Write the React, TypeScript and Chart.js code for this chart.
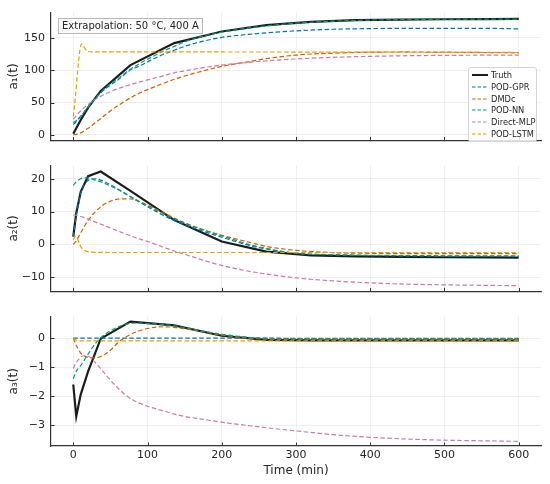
import { useEffect, useRef } from "react";
import { Chart, registerables, type ChartConfiguration, type Plugin } from "chart.js";

Chart.register(...registerables);

const FONT = "'DejaVu Sans', sans-serif";
const TEXT = "#262626";
const AXIS = "#333333";
const GRID = "#ebebeb";

const seriesNames = ["Truth", "POD-GPR", "DMDc", "POD-NN", "Direct-MLP", "POD-LSTM"];
const seriesColors = ["#1c1c1c", "#0072B2", "#D55E00", "#009E73", "#CC79A7", "#E69F00"];

const xTicks = [0, 100, 200, 300, 400, 500, 600];
const a1Ticks = [0, 50, 100, 150];
const a2Ticks = [-10, 0, 10, 20];
const a3Ticks = [-3, -2, -1, 0];

// time grids (min)
const truthTimes = [0, 4, 10, 20, 37, 77, 136, 200, 260, 320, 380, 440, 500, 560, 600];
const modelTimes = [0, 3, 5, 10, 15, 20, 30, 40, 50, 60, 75, 90, 100, 120, 136, 150, 175, 200, 240, 260, 300, 350, 400, 450, 500, 550, 600];
const lstmTimes = [0, 3, 6, 9, 11, 14, 18, 25, 50, 100, 200, 300, 400, 500, 600];

// a1(t)
const truthA1 = [1.5, 10, 23, 42, 68, 108, 142, 160, 170, 175, 177.5, 178.5, 179, 179.3, 179.5];
const gprA1 = [16, 19, 22, 28, 36, 43, 57, 68, 77, 85, 99, 107, 113, 124, 131, 137, 145, 151, 156, 158, 161, 163.5, 164.5, 165, 165, 165, 164];
const dmdcA1 = [0, 0.3, 1, 3, 6.5, 10, 19, 28, 37, 45, 56, 65, 70, 79, 86, 91, 99, 106, 114, 118, 123.5, 126.5, 128, 128.3, 128, 127.5, 127];
const nnA1 = [19, 21, 23, 29, 36, 43, 57, 69, 79, 87, 100, 111, 117, 129, 137, 144, 153, 159, 166, 168.5, 173, 176, 177.8, 178.6, 179, 179.2, 179.3];
const mlpA1 = [24, 28, 31, 37, 42.5, 47, 55, 61.5, 67, 71.5, 77, 82, 85, 91, 96, 99, 104, 108, 112.5, 114.5, 117.5, 120, 121.5, 122.5, 123, 123.3, 123.5];
const lstmA1 = [28, 60, 100, 132, 141, 137, 130, 128.5, 128.5, 128.5, 128.3, 128.2, 128, 127.8, 127.5];

// a2(t)
const truthA2 = [2.4, 9.5, 16, 20.8, 22.2, 16.3, 7.4, 0.9, -2.2, -3.35, -3.65, -3.8, -3.9, -3.95, -4.0];
const gprA2 = [2.4, 7, 10, 15.5, 18.3, 19.5, 20, 19.3, 18.2, 16.9, 14.8, 12.8, 11.5, 9, 7.3, 6, 4, 2.2, -0.5, -1.4, -2.7, -3.2, -3.4, -3.5, -3.55, -3.6, -3.6];
const dmdcA2 = [0, 0.8, 1.5, 3.5, 5.5, 7.3, 10, 12, 13.2, 13.8, 13.9, 13, 12, 9.8, 8, 6.6, 4.5, 2.8, 0.5, -0.6, -1.8, -2.5, -2.7, -2.8, -2.8, -2.8, -2.8];
const nnA2 = [18, 18.8, 19.3, 20, 20.3, 20.2, 19.6, 18.8, 17.8, 16.7, 14.8, 12.9, 11.8, 9.5, 7.8, 6.5, 4.4, 2.6, -0.2, -1.2, -2.7, -3.1, -3.3, -3.4, -3.45, -3.5, -3.5];
const mlpA2 = [9, 8.9, 8.8, 8.5, 8.1, 7.7, 6.8, 5.9, 5, 4.1, 2.8, 1.6, 0.9, -0.7, -2, -3, -4.8, -6.4, -8.3, -9, -10.2, -11.1, -11.7, -12.1, -12.3, -12.45, -12.55];
const lstmA2 = [1.5, 2.5, 1.5, -0.2, -1, -1.6, -2.1, -2.35, -2.45, -2.45, -2.45, -2.45, -2.45, -2.45, -2.45];

// a3(t)
const truthA3 = [-1.6, -2.7, -1.95, -1.15, -0.02, 0.57, 0.44, 0.08, -0.06, -0.08, -0.08, -0.08, -0.08, -0.08, -0.08];
const gprA3 = [0, 0, 0, 0, 0, 0, 0, 0, 0, 0, 0, 0, 0, 0, 0, 0, 0, 0, 0, 0, -0.01, -0.01, -0.01, -0.01, -0.01, -0.01, -0.01];
const dmdcA3 = [0, -0.2, -0.3, -0.52, -0.62, -0.66, -0.68, -0.6, -0.42, -0.16, 0.1, 0.26, 0.33, 0.39, 0.37, 0.32, 0.22, 0.1, -0.01, -0.04, -0.05, -0.05, -0.05, -0.05, -0.05, -0.05, -0.05];
const nnA3 = [-1.4, -1.2, -1.1, -0.95, -0.75, -0.55, -0.18, 0.08, 0.25, 0.38, 0.5, 0.52, 0.5, 0.47, 0.42, 0.36, 0.24, 0.13, 0.02, -0.01, -0.02, -0.02, -0.02, -0.02, -0.02, -0.02, -0.02];
const mlpA3 = [-1.05, -0.88, -0.8, -0.66, -0.6, -0.62, -0.85, -1.15, -1.45, -1.72, -2.05, -2.25, -2.35, -2.5, -2.62, -2.7, -2.8, -2.9, -3.03, -3.09, -3.2, -3.33, -3.42, -3.48, -3.52, -3.54, -3.56];
const lstmA3 = [0, -0.06, -0.09, -0.1, -0.1, -0.1, -0.1, -0.1, -0.1, -0.1, -0.1, -0.1, -0.1, -0.1, -0.1];

const series = (times: number[], values: number[]) => times.map((x, i) => ({ x, y: values[i] }));

function makeDatasets(lines: number[][]) {
  const times = [truthTimes, modelTimes, modelTimes, modelTimes, modelTimes, lstmTimes];
  return lines.map((values, i) => ({
    label: seriesNames[i],
    data: series(times[i], values),
    borderColor: seriesColors[i],
    borderWidth: i === 0 ? 2.2 : 1.2,
    borderDash: i === 0 ? [] : [4.5, 2.5],
    pointRadius: 0,
    fill: false,
    tension: 0,
    cubicInterpolationMode: i === 0 ? "default" : "monotone",
    order: 6 - i,
  }));
}

const fmt = (v: number) => (v < 0 ? "\u2212" + Math.abs(v) : String(v));

// ticks pointing into the plot, like the matplotlib style
const inwardTicks: Plugin<"line"> = {
  id: "inwardTicks",
  afterDraw(chart) {
    const { ctx, chartArea, scales } = chart;
    ctx.save();
    ctx.strokeStyle = AXIS;
    ctx.lineWidth = 1;
    ctx.beginPath();
    scales.x.ticks.forEach((t) => {
      const px = Math.round(scales.x.getPixelForValue(t.value)) + 0.5;
      ctx.moveTo(px, chartArea.bottom);
      ctx.lineTo(px, chartArea.bottom - 3.5);
    });
    scales.y.ticks.forEach((t) => {
      const py = Math.round(scales.y.getPixelForValue(t.value)) + 0.5;
      ctx.moveTo(chartArea.left, py);
      ctx.lineTo(chartArea.left + 3.5, py);
    });
    ctx.stroke();
    ctx.restore();
  },
};

type PanelSpec = {
  lines: number[][];
  yTicks: number[];
  yMin: number;
  yMax: number;
  yLabel: string;
  top: number;
  height: number;
  padTop: number;
  xHeight: number;
  showX: boolean;
};

function makeConfig(p: PanelSpec): ChartConfiguration<"line"> {
  return {
    type: "line",
    data: { datasets: makeDatasets(p.lines) as any },
    options: {
      animation: false,
      responsive: false,
      maintainAspectRatio: false,
      events: [],
      layout: { padding: { top: p.padTop, right: 9, left: 0, bottom: 0 } },
      plugins: { legend: { display: false }, tooltip: { enabled: false } },
      scales: {
        x: {
          type: "linear",
          min: -30,
          max: 630,
          afterBuildTicks: (s) => {
            s.ticks = xTicks.map((value) => ({ value }));
          },
          afterFit: (s) => {
            s.height = p.xHeight;
          },
          grid: { color: GRID, lineWidth: 0.8, drawTicks: false },
          border: { color: AXIS, width: 1.2 },
          ticks: {
            display: p.showX,
            padding: 3,
            autoSkip: false,
            maxRotation: 0,
            color: TEXT,
            font: { family: FONT, size: 11 },
            callback: (v) => String(v),
          },
          title: {
            display: p.showX,
            text: "Time (min)",
            color: TEXT,
            font: { family: FONT, size: 12 },
            padding: { top: 0, bottom: 5.5 },
          },
        },
        y: {
          type: "linear",
          min: p.yMin,
          max: p.yMax,
          afterBuildTicks: (s) => {
            s.ticks = p.yTicks.map((value) => ({ value }));
          },
          afterFit: (s) => {
            s.width = 51;
          },
          grid: { color: GRID, lineWidth: 0.8, drawTicks: false },
          border: { color: AXIS, width: 1.2 },
          ticks: {
            padding: 6,
            color: TEXT,
            font: { family: FONT, size: 11 },
            callback: (v) => fmt(Number(v)),
          },
          title: {
            display: true,
            text: p.yLabel,
            color: TEXT,
            font: { family: FONT, size: 12 },
            padding: { top: 6.8, bottom: 0 },
          },
        },
      },
    },
    plugins: [inwardTicks],
  };
}

const panels: PanelSpec[] = [
  {
    lines: [truthA1, gprA1, dmdcA1, nnA1, mlpA1, lstmA1],
    yTicks: a1Ticks, yMin: -8.7, yMax: 189.3, yLabel: "a\u2081(t)",
    top: 0, height: 153, padTop: 9, xHeight: 8, showX: false,
  },
  {
    lines: [truthA2, gprA2, dmdcA2, nnA2, mlpA2, lstmA2],
    yTicks: a2Ticks, yMin: -14.3, yMax: 24, yLabel: "a\u2082(t)",
    top: 153, height: 151, padTop: 7, xHeight: 8, showX: false,
  },
  {
    lines: [truthA3, gprA3, dmdcA3, nnA3, mlpA3, lstmA3],
    yTicks: a3Ticks, yMin: -3.72, yMax: 0.74, yLabel: "a\u2083(t)",
    top: 304, height: 180, padTop: 8, xHeight: 38, showX: true,
  },
];

const configs = panels.map(makeConfig);

function Panel({ config, top, height }: { config: ChartConfiguration<"line">; top: number; height: number }) {
  const ref = useRef<HTMLCanvasElement>(null);
  useEffect(() => {
    const canvas = ref.current;
    if (!canvas) return;
    const chart = new Chart(canvas, config);
    return () => chart.destroy();
  }, [config]);
  return (
    <canvas
      ref={ref}
      width={550}
      height={height}
      style={{ position: "absolute", left: 0, top, width: 550, height }}
    />
  );
}

function Legend() {
  return (
    <div
      style={{
        position: "absolute",
        left: 468,
        top: 67,
        width: 69,
        height: 75,
        boxSizing: "border-box",
        border: "1px solid #d4d4d4",
        borderRadius: 3,
        background: "rgba(255,255,255,0.85)",
        fontFamily: FONT,
        fontSize: 8.3,
        color: TEXT,
      }}
    >
      {seriesNames.map((name, i) => (
        <div key={name} style={{ position: "absolute", left: 0, top: 1 + i * 11.8, height: 12, width: 66 }}>
          <svg width={18} height={12} style={{ position: "absolute", left: 2, top: 0 }}>
            <line
              x1={1}
              y1={6}
              x2={17}
              y2={6}
              stroke={seriesColors[i]}
              strokeWidth={i === 0 ? 2 : 1.2}
              strokeDasharray={i === 0 ? undefined : "3.5 2"}
            />
          </svg>
          <span style={{ position: "absolute", left: 22, top: 0, lineHeight: "12px", whiteSpace: "nowrap" }}>{name}</span>
        </div>
      ))}
    </div>
  );
}

export default function App() {
  return (
    <div style={{ position: "fixed", left: 0, top: 0, width: 550, height: 484, background: "#fff" }}>
      {panels.map((p, i) => (
        <Panel key={i} config={configs[i]} top={p.top} height={p.height} />
      ))}
      <div
        style={{
          position: "absolute",
          left: 58,
          top: 18,
          padding: "1px 3px",
          border: "1px solid #b8b8b8",
          background: "rgba(250,250,250,0.9)",
          fontFamily: FONT,
          fontSize: 10,
          lineHeight: "12px",
          color: TEXT,
          whiteSpace: "nowrap",
        }}
      >
        Extrapolation: 50 °C, 400 A
      </div>
      <Legend />
    </div>
  );
}
